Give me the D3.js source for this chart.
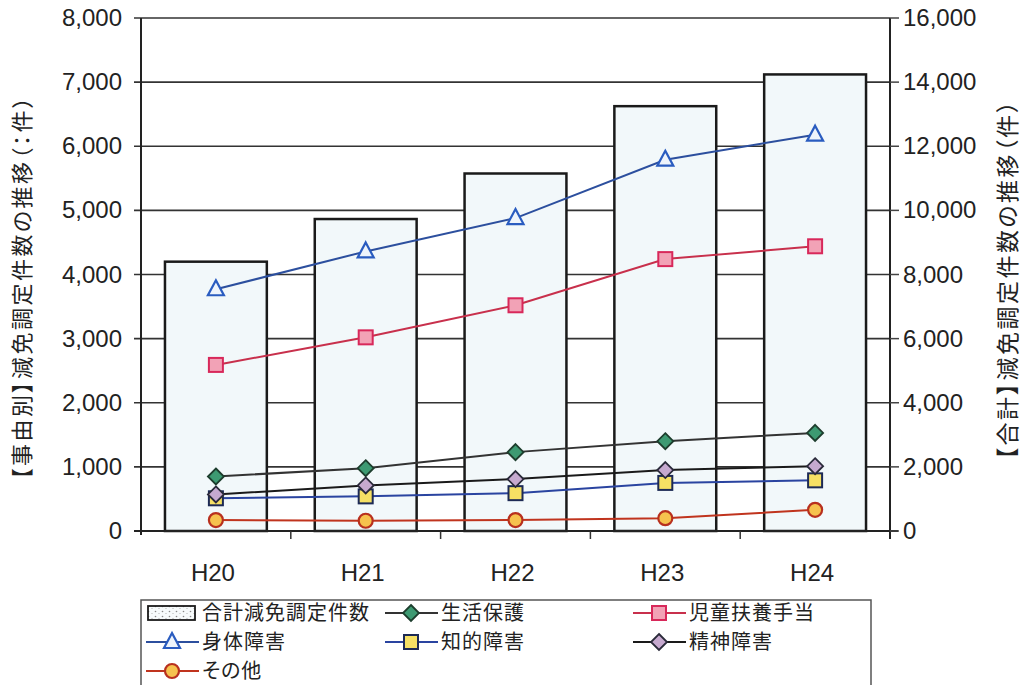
<!DOCTYPE html>
<html>
<head>
<meta charset="utf-8">
<script src="https://cdn.jsdelivr.net/npm/d3@7"></script>
<style>
  body { margin: 0; background: #fff; }
  text { font-family: "Liberation Sans", Arial, sans-serif; fill: #222; }
  .jp { font-family: "Noto Sans CJK JP", sans-serif; font-feature-settings: "palt"; }
</style>
</head>
<body>
<script>
// data
const categories = ['H20', 'H21', 'H22', 'H23', 'H24'];
const totalCounts = [8400, 9730, 11150, 13250, 14240];
const shintai = [3770, 4360, 4880, 5790, 6180];
const jido = [2590, 3020, 3520, 4240, 4440];
const seikatsu = [850, 980, 1230, 1400, 1530];
const seishin = [570, 710, 810, 950, 1010];
const chiteki = [510, 540, 590, 750, 790];
const sonota = [170, 160, 170, 200, 330];
const leftTicks = [0, 1000, 2000, 3000, 4000, 5000, 6000, 7000, 8000];
const rightTicks = [0, 2000, 4000, 6000, 8000, 10000, 12000, 14000, 16000];

const width = 1023, height = 685;
const plot = { left: 141, right: 890, top: 18, bottom: 531 };

const svg = d3.select('body').append('svg')
  .attr('width', width)
  .attr('height', height);

const defs = svg.append('defs');
const pat = defs.append('pattern')
  .attr('id', 'stipple')
  .attr('width', 7).attr('height', 5)
  .attr('patternUnits', 'userSpaceOnUse');
pat.append('rect').attr('width', 7).attr('height', 5).attr('fill', '#f7fbfc');
pat.append('circle').attr('cx', 1.5).attr('cy', 1.5).attr('r', 0.8).attr('fill', '#888');
pat.append('circle').attr('cx', 5).attr('cy', 3.5).attr('r', 0.6).attr('fill', '#aaa');

const x = d3.scaleBand().domain(categories).range([plot.left, plot.right]).paddingInner(0.32).paddingOuter(0.16);
const xc = d => x(d) + x.bandwidth() / 2;
const yL = d3.scaleLinear().domain([0, 8000]).range([plot.bottom, plot.top]);
const yR = d3.scaleLinear().domain([0, 16000]).range([plot.bottom, plot.top]);
const fmt = d3.format(',');

// grid lines (left scale)
svg.append('g')
  .selectAll('line')
  .data(leftTicks)
  .join('line')
  .attr('x1', plot.left - 7)
  .attr('x2', plot.right)
  .attr('y1', d => yL(d))
  .attr('y2', d => yL(d))
  .attr('stroke', '#333')
  .attr('stroke-width', 1.6);

// total bars (right scale)
svg.append('g')
  .selectAll('rect')
  .data(categories)
  .join('rect')
  .attr('x', d => x(d))
  .attr('width', x.bandwidth())
  .attr('y', (d, i) => yR(totalCounts[i]))
  .attr('height', (d, i) => plot.bottom - yR(totalCounts[i]))
  .attr('fill', '#f2f8fa')
  .attr('stroke', '#1a1a1a')
  .attr('stroke-width', 2.5);

// axes frame
const axisG = svg.append('g').attr('stroke', '#222').attr('stroke-width', 2);
axisG.append('line').attr('x1', plot.left).attr('x2', plot.left).attr('y1', plot.top).attr('y2', plot.bottom + 4);
axisG.append('line').attr('x1', plot.right).attr('x2', plot.right).attr('y1', plot.top).attr('y2', plot.bottom + 8);
axisG.append('line').attr('x1', plot.left - 7).attr('x2', plot.right + 8).attr('y1', plot.bottom).attr('y2', plot.bottom);

// right ticks
svg.append('g')
  .selectAll('line')
  .data(rightTicks)
  .join('line')
  .attr('x1', plot.right)
  .attr('x2', plot.right + 9)
  .attr('y1', d => yR(d))
  .attr('y2', d => yR(d))
  .attr('stroke', '#444')
  .attr('stroke-width', 1.5);

// x ticks at band boundaries
const bounds = categories.slice(1).map(c => x(c) - x.step() * x.paddingInner() / 2);
svg.append('g')
  .selectAll('line')
  .data(bounds)
  .join('line')
  .attr('x1', d => d).attr('x2', d => d)
  .attr('y1', plot.bottom).attr('y2', plot.bottom + 8)
  .attr('stroke', '#333').attr('stroke-width', 1.5);

// tick labels
svg.append('g')
  .selectAll('text')
  .data(leftTicks)
  .join('text')
  .attr('x', 122)
  .attr('y', d => yL(d) + 8)
  .attr('text-anchor', 'end')
  .attr('font-size', 24)
  .text(d => fmt(d));

svg.append('g')
  .selectAll('text')
  .data(rightTicks)
  .join('text')
  .attr('x', 903)
  .attr('y', d => yR(d) + 8)
  .attr('font-size', 24)
  .text(d => fmt(d));

svg.append('g')
  .selectAll('text')
  .data(categories)
  .join('text')
  .attr('x', d => xc(d) - 3)
  .attr('y', 581)
  .attr('text-anchor', 'middle')
  .attr('font-size', 24)
  .text(d => d);

// axis titles
svg.append('text')
  .attr('class', 'jp')
  .attr('transform', 'translate(30,287) rotate(-90)')
  .attr('text-anchor', 'middle')
  .attr('font-size', 22)
  .attr('letter-spacing', 2.5)
  .text('【事由別】減免調定件数の推移（：件）');

svg.append('text')
  .attr('class', 'jp')
  .attr('transform', 'translate(1016,279) rotate(-90)')
  .attr('text-anchor', 'middle')
  .attr('font-size', 23)
  .attr('letter-spacing', 2.5)
  .text('【合計】減免調定件数の推移（件）');

// series
const series = [
  { name: '生活保護', values: seikatsu, line: '#333', fill: '#3d9a72', stroke: '#1d3d2d', shape: 'diamond' },
  { name: '児童扶養手当', values: jido, line: '#c8304c', fill: '#f2a2b6', stroke: '#d8285a', shape: 'square' },
  { name: '身体障害', values: shintai, line: '#2c4f9e', fill: '#eef4fb', stroke: '#2a5cc0', shape: 'triangle' },
  { name: '知的障害', values: chiteki, line: '#2a44a0', fill: '#f6e064', stroke: '#1d2a55', shape: 'square' },
  { name: '精神障害', values: seishin, line: '#1a1a1a', fill: '#c6a9cf', stroke: '#2a2a3a', shape: 'diamond' },
  { name: 'その他', values: sonota, line: '#c0341e', fill: '#f6c24e', stroke: '#b8301e', shape: 'circle' }
];

function marker(g, s, cx, cy) {
  if (s.shape === 'diamond') {
    g.append('path').attr('d', `M${cx},${cy - 8}L${cx + 8},${cy}L${cx},${cy + 8}L${cx - 8},${cy}Z`)
      .attr('fill', s.fill).attr('stroke', s.stroke).attr('stroke-width', 1.8);
  } else if (s.shape === 'square') {
    g.append('rect').attr('x', cx - 7).attr('y', cy - 7).attr('width', 14).attr('height', 14)
      .attr('fill', s.fill).attr('stroke', s.stroke).attr('stroke-width', 2);
  } else if (s.shape === 'triangle') {
    g.append('path').attr('d', `M${cx},${cy - 9}L${cx + 8},${cy + 6}L${cx - 8},${cy + 6}Z`)
      .attr('fill', s.fill).attr('stroke', s.stroke).attr('stroke-width', 2.2);
  } else {
    g.append('circle').attr('cx', cx).attr('cy', cy).attr('r', 7)
      .attr('fill', s.fill).attr('stroke', s.stroke).attr('stroke-width', 2.2);
  }
}

const line = d3.line().x((d, i) => xc(categories[i])).y(d => yL(d));
series.forEach(s => {
  const g = svg.append('g');
  g.append('path')
    .attr('d', line(s.values))
    .attr('fill', 'none')
    .attr('stroke', s.line)
    .attr('stroke-width', 2);
  s.values.forEach((v, i) => marker(g, s, xc(categories[i]), yL(v)));
});

// legend
const legend = svg.append('g');
legend.append('rect')
  .attr('x', 141).attr('y', 600).attr('width', 730).attr('height', 100)
  .attr('fill', 'none').attr('stroke', '#555').attr('stroke-width', 1.5);

const legendItems = [
  { name: '合計減免調定件数', bar: true, col: 0, row: 0 },
  { s: series[0], col: 1, row: 0 },
  { s: series[1], col: 2, row: 0 },
  { s: series[2], col: 0, row: 1 },
  { s: series[3], col: 1, row: 1 },
  { s: series[4], col: 2, row: 1 },
  { s: series[5], col: 0, row: 2 }
];
const colX = [146, 385, 633];
const rowY = [613, 642, 671];

legendItems.forEach(it => {
  const lx = colX[it.col], ly = rowY[it.row];
  const g = legend.append('g');
  if (it.bar) {
    g.append('rect').attr('x', lx + 2).attr('y', ly - 7).attr('width', 47).attr('height', 14)
      .attr('fill', 'url(#stipple)').attr('stroke', '#1a1a1a').attr('stroke-width', 1.8);
  } else {
    g.append('line').attr('x1', lx).attr('x2', lx + 53).attr('y1', ly).attr('y2', ly)
      .attr('stroke', it.s.line).attr('stroke-width', 2);
    marker(g, it.s, lx + 26, ly);
  }
  g.append('text')
    .attr('class', 'jp')
    .attr('x', lx + 56)
    .attr('y', ly + 7)
    .attr('font-size', 20)
    .attr('letter-spacing', 1)
    .text(it.bar ? it.name : it.s.name);
});
</script>
</body>
</html>
